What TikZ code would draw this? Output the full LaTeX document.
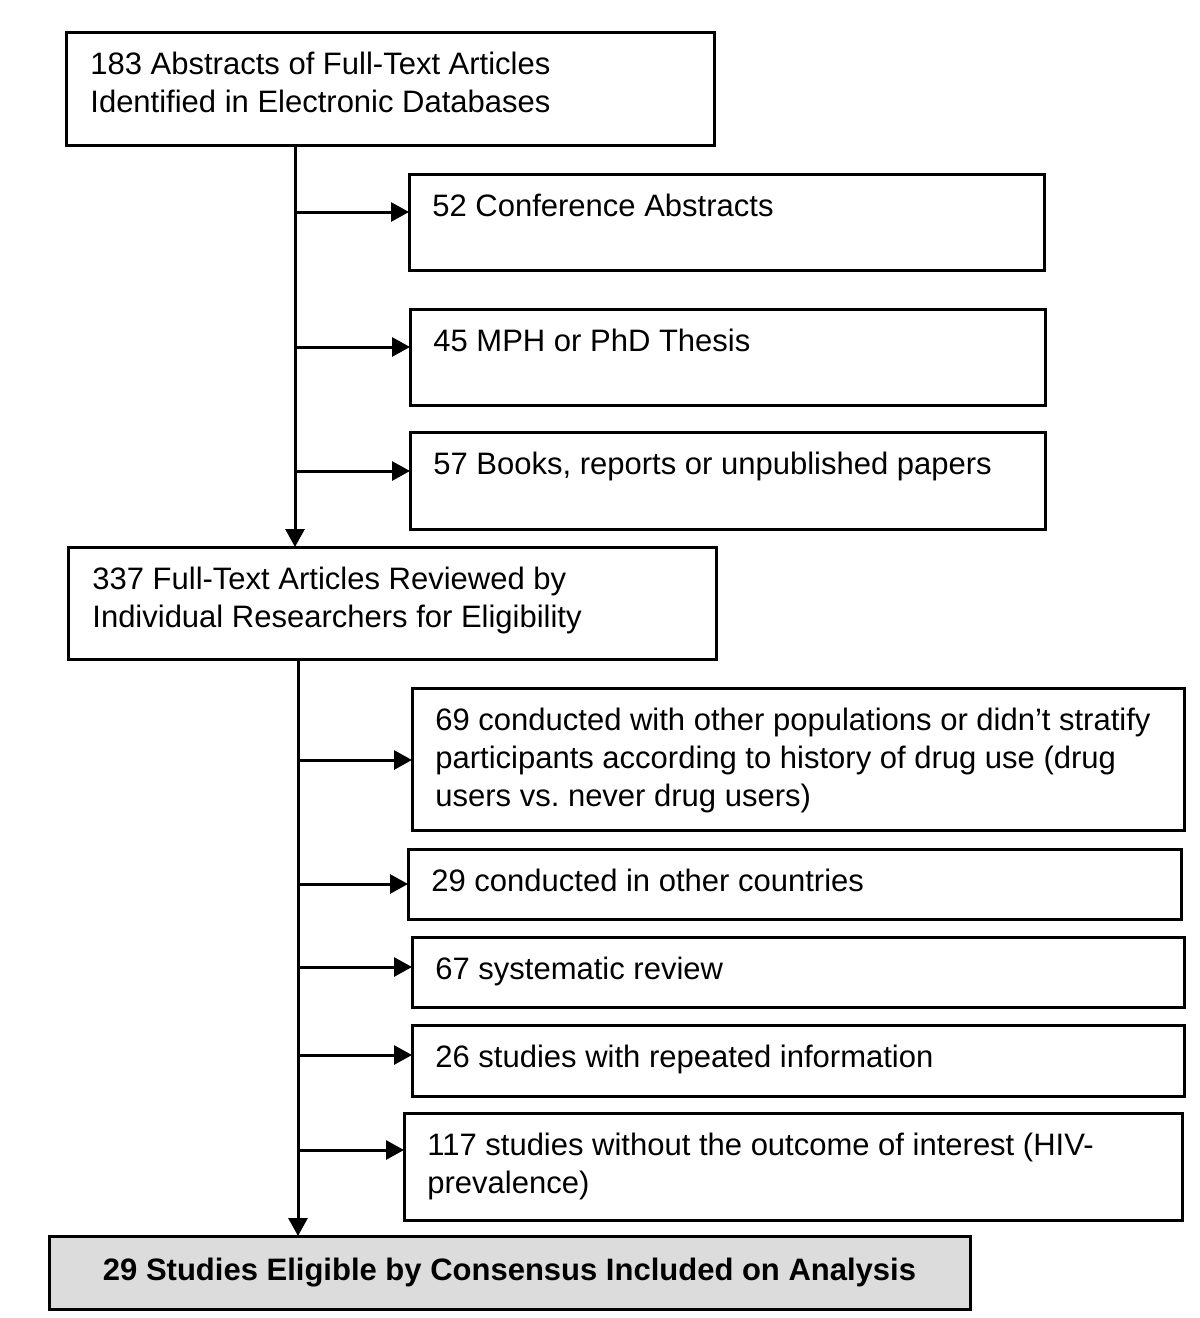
\documentclass[tikz,border=0pt]{standalone}
\usepackage{fontspec}
\setmainfont{Liberation Sans}
\usetikzlibrary{arrows.meta,positioning}
\newcommand{\lw}{1.5pt}
\newcommand{\txtsize}{\fontsize{15.5}{19}\selectfont}
\definecolor{eliggray}{RGB}{220,220,220}

\begin{document}
\begin{tikzpicture}[x=0.5pt,y=-0.5pt]
    %\draw[help lines] (0,0) grid[step=100] (1200,1318);
    \tikzset{
        box/.style = {draw, line width=\lw, rectangle, anchor=north west, inner sep=0pt, outer sep=0pt},
        txt/.style = {anchor=north west, inner sep=0pt, align=left, font=\txtsize},
        arr/.style = {line width=\lw, -{Triangle[length=9pt,width=9.5pt]}}
    }
    \useasboundingbox (0,0) rectangle (1200,1318);

    \node[box, minimum width=324pt, minimum height=56.5pt] (abst) at (66,32) {};
    \node[box, minimum width=317.5pt, minimum height=48pt] (conf) at (409,174) {};
    \node[box, minimum width=317.5pt, minimum height=48pt] (thes) at (410,309) {};
    \node[box, minimum width=317.5pt, minimum height=48.5pt] (book) at (410,432) {};
    \node[box, minimum width=324pt, minimum height=56pt] (rev) at (68,547) {};

    \node[box, minimum width=386pt, minimum height=71pt] (pop) at (412,688) {};
    \node[box, minimum width=386.5pt, minimum height=35pt] (ctry) at (408,849) {};
    \node[box, minimum width=386pt, minimum height=35pt] (sysr) at (412,937) {};
    \node[box, minimum width=386pt, minimum height=35.5pt] (rep) at (412,1025) {};
    \node[box, minimum width=389pt, minimum height=53.5pt] (outc) at (404,1113) {};
    \node[box, fill=eliggray, minimum width=460.5pt, minimum height=36.5pt,
          font=\txtsize\bfseries] (elig) at (49,1236) {29 Studies Eligible by Consensus Included on Analysis};

    \node[txt] (abst-t) at ([shift={(24,20)}]abst.north west) {183 Abstracts of Full-Text Articles\\Identified in Electronic Databases};
    \node[txt] (conf-t) at ([shift={(23,20)}]conf.north west) {52 Conference Abstracts};
    \node[txt] (thes-t) at ([shift={(23,20)}]thes.north west) {45 MPH or PhD Thesis};
    \node[txt] (book-t) at ([shift={(23,20)}]book.north west) {57 Books, reports or unpublished papers};
    \node[txt] (rev-t) at ([shift={(24,20)}]rev.north west) {337 Full-Text Articles Reviewed by\\Individual Researchers for Eligibility};

    \node[txt] (pop-t) at ([shift={(23,20)}]pop.north west) {69 conducted with other populations or didn’t stratify\\participants according to history of drug use (drug\\users vs.\ never drug users)};
    \node[txt] (ctry-t) at ([shift={(23,20)}]ctry.north west) {29 conducted in other countries};
    \node[txt] (sysr-t) at ([shift={(23,20)}]sysr.north west) {67 systematic review};
    \node[txt] (rep-t) at ([shift={(23,20)}]rep.north west) {26 studies with repeated information};
    \node[txt] (outc-t) at ([shift={(23,20)}]outc.north west) {117 studies without the outcome of interest (HIV-\\prevalence)};

    % trunks
    \coordinate (trunkA) at (295,0);
    \coordinate (trunkB) at (298,0);
    \draw[arr] (abst.south -| trunkA) -- (rev.north -| trunkA);
    \draw[arr] (rev.south -| trunkB) -- (elig.north -| trunkB);

    % exclusions
    \foreach \n/\y in {conf/212,thes/347,book/471}{
        \coordinate (j-\n) at (295,\y);
        \draw[arr] (j-\n) -- (j-\n -| \n.west);
    }
    \foreach \n/\y in {pop/760,ctry/884,sysr/967,rep/1055,outc/1150}{
        \coordinate (j-\n) at (298,\y);
        \draw[arr] (j-\n) -- (j-\n -| \n.west);
    }
\end{tikzpicture}
\end{document}
